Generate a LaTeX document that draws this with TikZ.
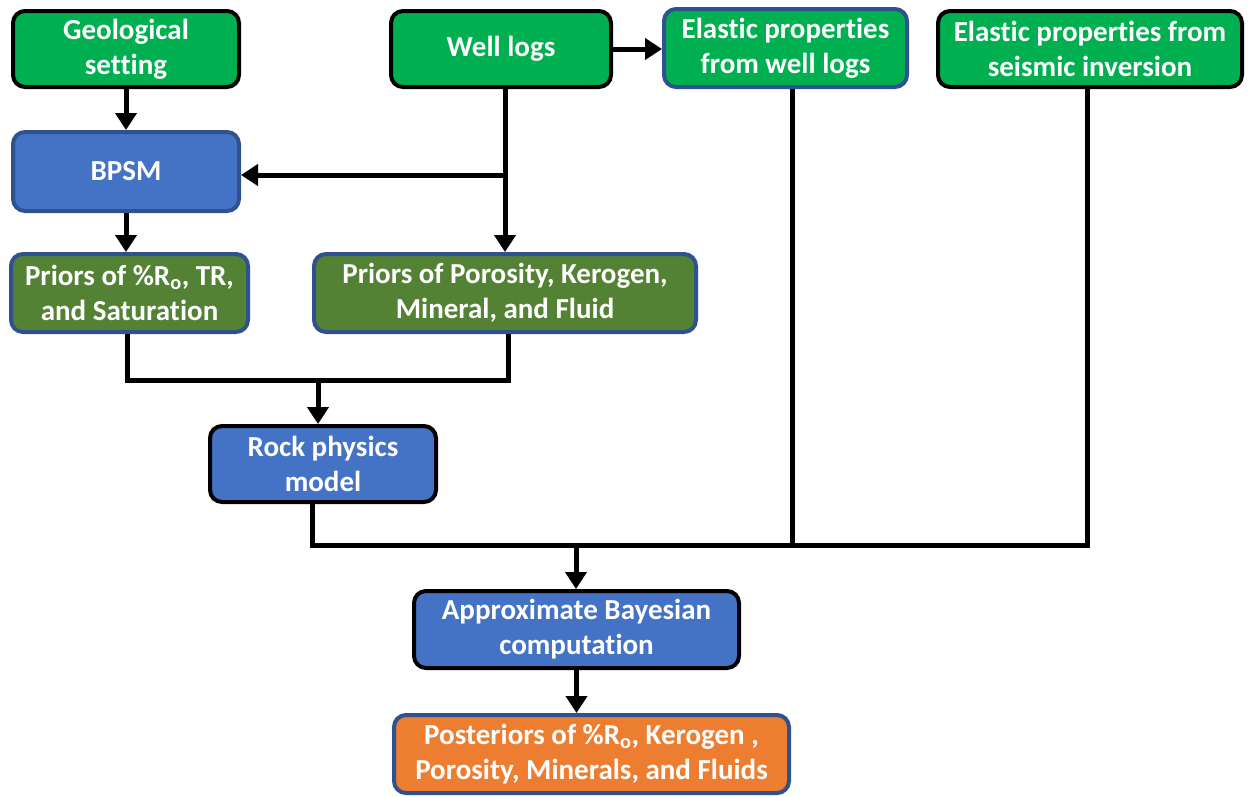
\documentclass[tikz,border=0pt]{standalone}
\usepackage{fontspec}
\setmainfont{Carlito}[Ligatures={NoCommon}]
\usetikzlibrary{arrows.meta}
\definecolor{cgreen}{HTML}{00B050}
\definecolor{dgreen}{HTML}{548235}
\definecolor{cblue}{HTML}{4472C4}
\definecolor{bblue}{HTML}{2F528F}
\definecolor{corange}{HTML}{ED7D31}
\tikzset{
  box/.style={rounded corners=12pt, line width=4pt, align=center, text=white,
    font=\fontsize{29}{35}\selectfont\bfseries, inner sep=0pt},
  blk/.style={box, draw=black},
  blu/.style={box, draw=bblue},
  conn/.style={line width=5pt},
  arr/.style={conn, -{Triangle[length=17pt,width=21pt]}},
}
\begin{document}
\begin{tikzpicture}[x=1pt,y=-1pt]
\useasboundingbox (0,0) rectangle (1251,796);
\node[blk, fill=cgreen, minimum width=226, minimum height=76] (geo) at (126,49) {Geological\\setting};
\node[blk, fill=cgreen, minimum width=220, minimum height=76] (well) at (501,49) {Well logs};
\node[blu, fill=cgreen, minimum width=243, minimum height=78] (elw) at (785.5,48) {Elastic properties\\from well logs};
\node[blk, fill=cgreen, minimum width=304, minimum height=76] (els) at (1090,49) {Elastic properties from\\seismic inversion};
\node[blu, fill=cblue, minimum width=226, minimum height=79] (bpsm) at (126,171.5) {BPSM};
\node[blu, fill=dgreen, minimum width=237, minimum height=78] (pro) at (129.5,293) {Priors of \%R\textsubscript{o}, TR,\\and Saturation};
\node[blu, fill=dgreen, minimum width=382, minimum height=78] (ppo) at (505,293) {Priors of Porosity, Kerogen,\\Mineral, and Fluid};
\node[blk, fill=cblue, minimum width=226, minimum height=76] (rpm) at (323,464) {Rock physics\\model};
\node[blk, fill=cblue, minimum width=325, minimum height=77] (abc) at (576.5,629.5) {Approximate Bayesian\\computation};
\node[blu, fill=corange, minimum width=395, minimum height=78] (post) at (591.5,754) {Posteriors of \%R\textsubscript{o}, Kerogen ,\\Porosity, Minerals, and Fluids};

\coordinate (j1) at (505,175);
\coordinate (a1) at (127,380);
\coordinate (j2) at (318,380);
\coordinate (a2) at (508,380);
\coordinate (b1) at (312,545);
\coordinate (j3) at (576,545);
\coordinate (b2) at (792,545);
\coordinate (b3) at (1087,545);

\draw[arr] (geo.south) -- (bpsm.north);
\draw[arr] (bpsm.south) -- (pro.north -| bpsm.south);
\draw[arr] (well.south -| j1) -- (ppo.north);
\draw[arr] (j1) -- (bpsm.east |- j1);
\draw[arr] (well.east) -- (elw.west |- well.east);
\draw[conn] (pro.south -| a1) -- (a1) -- (a2) -- (ppo.south -| a2);
\draw[arr] ([yshift=-2.5pt]j2) -- (rpm.north -| j2);
\draw[conn] (rpm.south -| b1) -- (b1) -- (b3) -- (els.south -| b3);
\draw[conn] (elw.south -| b2) -- (b2);
\draw[arr] ([yshift=-2.5pt]j3) -- (abc.north -| j3);
\draw[arr] (abc.south) -- (post.north -| abc.south);
\end{tikzpicture}
\end{document}
